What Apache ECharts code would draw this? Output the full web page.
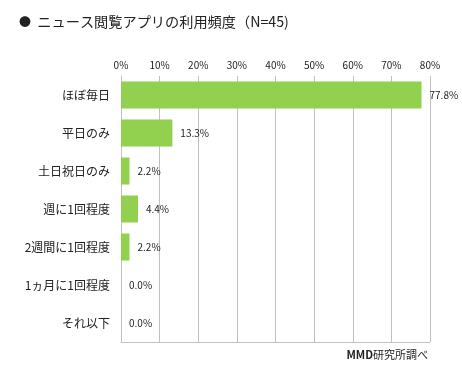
<!DOCTYPE html>
<html><head><meta charset="utf-8">
<script src="https://cdn.jsdelivr.net/npm/echarts@6/dist/echarts.min.js"></script>
<style>html,body{margin:0;padding:0;background:#fff}#c{width:462px;height:381px}</style>
</head><body><div id="c"></div>
<script>
const categories = ['ほぼ毎日','平日のみ','土日祝日のみ','週に1回程度','2週間に1回程度','1ヵ月に1回程度','それ以下'];
const values = [77.8, 13.3, 2.2, 4.4, 2.2, 0.0, 0.0];
const xTicks = [0,10,20,30,40,50,60,70,80];
const titleText = 'ニュース閲覧アプリの利用頻度（N=45)';
const creditBold = 'MMD';
const creditRest = '研究所調べ';

const chart = echarts.init(document.getElementById('c'));
const ff = '"Noto Sans CJK JP", "Noto Sans", sans-serif';
chart.setOption({
  animation: false,
  backgroundColor: '#fff',
  title: {text: '{b|●}  ' + titleText, left: 14, top: 10,
    textStyle: {fontSize: 14.2, fontWeight: 'normal', color: '#222', fontFamily: ff,
      rich: {b: {fontSize: 12, color: '#222', fontFamily: ff}}}},
  graphic: [{type: 'text', right: 34, top: 349, style: {
    text: '{m|' + creditBold + '}{r|' + creditRest + '}',
    rich: {m: {fontSize: 11, fontWeight: 'bold', fill: '#222', fontFamily: ff},
           r: {fontSize: 11, fill: '#222', fontFamily: ff}}}}],
  grid: {left: 121, right: 32, top: 76, bottom: 39, containLabel: false},
  xAxis: [{
    type: 'value', position: 'top', min: xTicks[0], max: xTicks[xTicks.length-1], interval: 10,
    axisLine: {show: false}, axisTick: {show: false},
    axisLabel: {formatter: '{value}%', fontSize: 10, color: '#222', margin: 6, fontFamily: ff},
    splitLine: {show: true, lineStyle: {color: '#c0c0c0', width: 1}}
  },{
    type: 'value', position: 'bottom', min: 0, max: 80, interval: 10,
    axisLine: {show: true, lineStyle: {color: '#c0c0c0'}}, axisTick: {show: false},
    axisLabel: {show: false}, splitLine: {show: false}
  }],
  yAxis: {
    type: 'category', data: categories, inverse: true,
    axisLine: {show: true, lineStyle: {color: '#c0c0c0'}}, axisTick: {show: false},
    axisLabel: {fontSize: 12, color: '#222', margin: 11, fontFamily: ff}
  },
  series: [{
    type: 'bar', data: values, barWidth: 27, xAxisIndex: 0,
    itemStyle: {color: '#92d050'},
    label: {show: true, position: 'right', distance: 8, fontSize: 10, color: '#222', fontFamily: ff,
      formatter: p => p.value.toFixed(1) + '%'}
  }]
});
</script></body></html>
